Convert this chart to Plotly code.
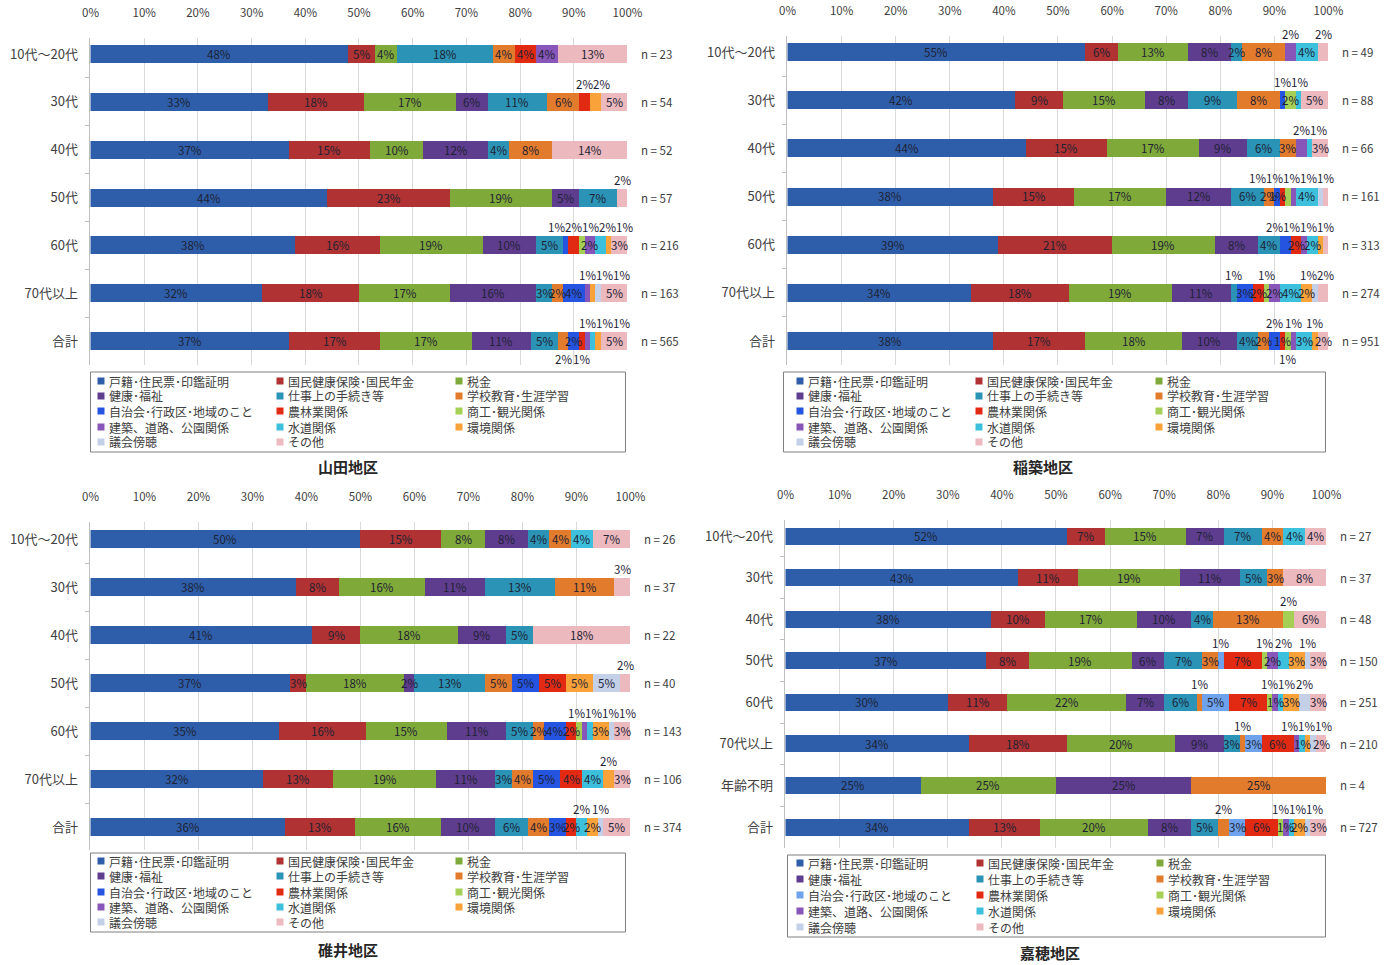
import plotly.graph_objects as go

W, H = 1393, 965
FONT = "Noto Sans CJK JP"

CATS = ["戸籍･住民票･印鑑証明", "国民健康保険･国民年金", "税金", "健康･福祉",
        "仕事上の手続き等", "学校教育･生涯学習", "自治会･行政区･地域のこと", "農林業関係",
        "商工･観光関係", "建築、道路、公園関係", "水道関係", "環境関係", "議会傍聴", "その他"]

AGES = ["10代～20代", "30代", "40代", "50代", "60代", "70代以上", "合計"]
AGES_KAHO = ["10代～20代", "30代", "40代", "50代", "60代", "70代以上", "年齢不明", "合計"]

# ---- data (percent), one list per category, rows in AGES order ----
YAMADA = {
    "戸籍･住民票･印鑑証明": [48, 33, 37, 44, 38, 32, 37],
    "国民健康保険･国民年金": [5, 18, 15, 23, 16, 18, 17],
    "税金": [4, 17, 10, 19, 19, 17, 17],
    "健康･福祉": [0, 6, 12, 5, 10, 16, 11],
    "仕事上の手続き等": [18, 11, 4, 7, 5, 3, 5],
    "学校教育･生涯学習": [4, 6, 8, 0, 0, 2, 2],
    "自治会･行政区･地域のこと": [0, 0, 0, 0, 1, 4, 2],
    "農林業関係": [4, 2, 0, 0, 2, 0, 1],
    "商工･観光関係": [0, 0, 0, 0, 1, 0, 0],
    "建築、道路、公園関係": [4, 0, 0, 0, 2, 1, 1],
    "水道関係": [0, 0, 0, 0, 2, 0, 1],
    "環境関係": [0, 2, 0, 0, 1, 1, 1],
    "議会傍聴": [0, 0, 0, 0, 0, 1, 0],
    "その他": [13, 5, 14, 2, 3, 5, 5],
}
N_YAMADA = [23, 54, 52, 57, 216, 163, 565]

INATSUKI = {
    "戸籍･住民票･印鑑証明": [55, 42, 44, 38, 39, 34, 38],
    "国民健康保険･国民年金": [6, 9, 15, 15, 21, 18, 17],
    "税金": [13, 15, 17, 17, 19, 19, 18],
    "健康･福祉": [8, 8, 9, 12, 8, 11, 10],
    "仕事上の手続き等": [2, 9, 6, 6, 4, 1, 4],
    "学校教育･生涯学習": [8, 8, 3, 2, 0, 0, 2],
    "自治会･行政区･地域のこと": [0, 1, 0, 1, 2, 3, 2],
    "農林業関係": [0, 0, 0, 1, 2, 2, 1],
    "商工･観光関係": [0, 2, 0, 1, 0, 1, 1],
    "建築、道路、公園関係": [2, 0, 2, 1, 1, 2, 1],
    "水道関係": [4, 1, 1, 4, 2, 4, 3],
    "環境関係": [0, 0, 0, 0, 1, 2, 1],
    "議会傍聴": [0, 0, 0, 1, 0, 1, 0],
    "その他": [2, 5, 3, 1, 1, 2, 2],
}
N_INATSUKI = [49, 88, 66, 161, 313, 274, 951]

USUI = {
    "戸籍･住民票･印鑑証明": [50, 38, 41, 37, 35, 32, 36],
    "国民健康保険･国民年金": [15, 8, 9, 3, 16, 13, 13],
    "税金": [8, 16, 18, 18, 15, 19, 16],
    "健康･福祉": [8, 11, 9, 2, 11, 11, 10],
    "仕事上の手続き等": [4, 13, 5, 13, 5, 3, 6],
    "学校教育･生涯学習": [4, 11, 0, 5, 2, 4, 4],
    "自治会･行政区･地域のこと": [0, 0, 0, 5, 4, 5, 3],
    "農林業関係": [0, 0, 0, 5, 2, 4, 2],
    "商工･観光関係": [0, 0, 0, 0, 1, 0, 0],
    "建築、道路、公園関係": [0, 0, 0, 0, 1, 0, 0],
    "水道関係": [4, 0, 0, 0, 1, 4, 2],
    "環境関係": [0, 0, 0, 5, 3, 2, 2],
    "議会傍聴": [0, 0, 0, 5, 1, 0, 1],
    "その他": [7, 3, 18, 2, 3, 3, 5],
}
N_USUI = [26, 37, 22, 40, 143, 106, 374]

KAHO = {
    "戸籍･住民票･印鑑証明": [52, 43, 38, 37, 30, 34, 25, 34],
    "国民健康保険･国民年金": [7, 11, 10, 8, 11, 18, 0, 13],
    "税金": [15, 19, 17, 19, 22, 20, 25, 20],
    "健康･福祉": [7, 11, 10, 6, 7, 9, 25, 8],
    "仕事上の手続き等": [7, 5, 4, 7, 6, 3, 0, 5],
    "学校教育･生涯学習": [4, 3, 13, 3, 1, 1, 25, 2],
    "自治会･行政区･地域のこと": [0, 0, 0, 1, 5, 3, 0, 3],
    "農林業関係": [0, 0, 0, 7, 7, 6, 0, 6],
    "商工･観光関係": [0, 0, 2, 1, 1, 0, 0, 1],
    "建築、道路、公園関係": [0, 0, 0, 2, 1, 1, 0, 1],
    "水道関係": [4, 0, 0, 2, 1, 1, 0, 1],
    "環境関係": [0, 0, 0, 3, 3, 1, 0, 2],
    "議会傍聴": [0, 0, 0, 1, 2, 1, 0, 1],
    "その他": [4, 8, 6, 3, 3, 2, 0, 3],
}
N_KAHO = [27, 37, 48, 150, 251, 210, 4, 727]

# ---- styles ----
COLORS = ["#2E5EAA", "#B03232", "#7FAA3A", "#5F3D8E", "#2B93B5", "#E27B2C", "#2554E0",
          "#E22A12", "#A6D055", "#8756B8", "#3CC0DC", "#F9A23A", "#C3D0E8", "#EBB9BE"]
KAHO_COLORS = list(COLORS)
KAHO_COLORS[6] = "#6EA2EC"

# label placement overrides (default: value>=3 inside, else above)
POS_YAMADA = {("60代", "建築、道路、公園関係"): "in", ("70代以上", "学校教育･生涯学習"): "in",
              ("合計", "自治会･行政区･地域のこと"): "in", ("合計", "学校教育･生涯学習"): "below",
              ("合計", "農林業関係"): "below"}
POS_INATSUKI = {("10代～20代", "仕事上の手続き等"): "in", ("30代", "商工･観光関係"): "in",
                ("50代", "学校教育･生涯学習"): "in", ("50代", "自治会･行政区･地域のこと"): "in",
                ("60代", "農林業関係"): "in", ("60代", "水道関係"): "in",
                ("70代以上", "農林業関係"): "in", ("70代以上", "建築、道路、公園関係"): "in",
                ("70代以上", "環境関係"): "in", ("合計", "学校教育･生涯学習"): "in",
                ("合計", "農林業関係"): "in", ("合計", "その他"): "in",
                ("合計", "商工･観光関係"): "below"}
POS_USUI = {("50代", "健康･福祉"): "in", ("60代", "学校教育･生涯学習"): "in",
            ("60代", "農林業関係"): "in", ("合計", "農林業関係"): "in",
            ("合計", "環境関係"): "in", ("30代", "その他"): "above"}
POS_KAHO = {("50代", "建築、道路、公園関係"): "in", ("60代", "建築、道路、公園関係"): "in",
            ("70代以上", "水道関係"): "in", ("70代以上", "その他"): "in",
            ("合計", "建築、道路、公園関係"): "in", ("合計", "環境関係"): "in"}

# pixel geometry of each panel (reference picture pixels)
PANELS = [
    dict(title="山田地区", data=YAMADA, rows=AGES, n=N_YAMADA, pos=POS_YAMADA, colors=COLORS,
         x0=90, x1=627, top=38, bottom=365, first=54, last=341, barpx=18,
         legend=(90, 372, 625, 452), lcols=(97, 276, 455), lrows=(381, 396, 411, 427, 442),
         tpos=(348, 466)),
    dict(title="稲築地区", data=INATSUKI, rows=AGES, n=N_INATSUKI, pos=POS_INATSUKI, colors=COLORS,
         x0=787, x1=1328, top=36, bottom=365, first=52, last=341, barpx=18,
         legend=(783, 372, 1325, 452), lcols=(796, 975, 1155), lrows=(381, 396, 411, 427, 442),
         tpos=(1043, 466)),
    dict(title="碓井地区", data=USUI, rows=AGES, n=N_USUI, pos=POS_USUI, colors=COLORS,
         x0=90, x1=630, top=522, bottom=850, first=539, last=827, barpx=18,
         legend=(90, 853, 625, 932), lcols=(97, 276, 455), lrows=(861, 876, 892, 907, 922),
         tpos=(348, 949)),
    dict(title="嘉穂地区", data=KAHO, rows=AGES_KAHO, n=N_KAHO, pos=POS_KAHO, colors=KAHO_COLORS,
         x0=785, x1=1326, top=520, bottom=848, first=536, last=827, barpx=17,
         legend=(787, 855, 1325, 937), lcols=(796, 976, 1156), lrows=(863, 879, 895, 911, 927),
         tpos=(1050, 952)),
]

LABEL_COLOR = "#1E2233"
TEXT_COLOR = "#404040"
VAL_SIZE = 11.5

# horizontal calibration of the rendered page (observed offset / scale)
OX, SX = 7.5, 0.9835


def px_x(x):
    return (x - OX) / (SX * W)


def px_y(y):
    return 1 - y / H


def spread(items, gap, hi):
    items = sorted(items, key=lambda t: t[0])
    xs = [t[0] for t in items]
    for i in range(1, len(xs)):
        xs[i] = max(xs[i], xs[i - 1] + gap)
    if xs and xs[-1] > hi:
        xs[-1] = hi
        for i in range(len(xs) - 2, -1, -1):
            xs[i] = min(xs[i], xs[i + 1] - gap)
    return [(xs[i], items[i][1]) for i in range(len(items))]


fig = go.Figure()
annotations = []
shapes = []
layout_axes = {}

for k, p in enumerate(PANELS, start=1):
    xa = "x" if k == 1 else f"x{k}"
    ya = "y" if k == 1 else f"y{k}"
    rows = p["rows"]
    nrows = len(rows)
    spacing = (p["last"] - p["first"]) / (nrows - 1)
    r_top = -(p["first"] - p["top"]) / spacing
    r_bot = (nrows - 1) + (p["bottom"] - p["last"]) / spacing
    bw = p["barpx"] / spacing

    for ci, cat in enumerate(CATS):
        fig.add_trace(go.Bar(
            y=rows, x=p["data"][cat], orientation="h", width=bw,
            marker=dict(color=p["colors"][ci], line=dict(width=0)),
            name=cat, showlegend=False, xaxis=xa, yaxis=ya,
            hovertemplate="%{y} " + cat + ": %{x}%<extra></extra>",
        ))

    # value labels
    gap = 17 / (p["x1"] - p["x0"]) * 100
    for ri, row in enumerate(rows):
        cum = 0
        above, below = [], []
        for cat in CATS:
            v = p["data"][cat][ri]
            if v <= 0:
                continue
            center = cum + v / 2
            cum += v
            mode = p["pos"].get((row, cat), "in" if v >= 3 else "above")
            if mode == "in":
                annotations.append(dict(x=center, y=row, xref=xa, yref=ya, text=f"{v}%",
                                        showarrow=False, font=dict(size=VAL_SIZE, color=LABEL_COLOR)))
            elif mode == "above":
                above.append((center, f"{v}%"))
            else:
                below.append((center, f"{v}%"))
        for group, shift in ((above, 18), (below, -18)):
            for x, t in spread(group, gap, 99.5):
                annotations.append(dict(x=x, y=row, xref=xa, yref=ya, text=t, yshift=shift,
                                        showarrow=False, font=dict(size=VAL_SIZE, color=LABEL_COLOR)))
        annotations.append(dict(x=1.022, y=row, xref=f"{xa} domain", yref=ya, text=f"n = {p['n'][ri]}",
                                xanchor="left", showarrow=False, font=dict(size=11.5, color=TEXT_COLOR)))

    layout_axes[("xaxis" if k == 1 else f"xaxis{k}")] = dict(
        domain=[px_x(p["x0"]), px_x(p["x1"])], anchor=ya, side="top", range=[0, 100],
        tickvals=list(range(0, 101, 10)), ticktext=[f"{v}%" for v in range(0, 101, 10)],
        showgrid=True, gridcolor="#D9D9D9", gridwidth=1, zeroline=False, showline=False,
        ticks="", ticklabelstandoff=18, tickfont=dict(size=11.5, color=TEXT_COLOR), fixedrange=True,
    )
    layout_axes[("yaxis" if k == 1 else f"yaxis{k}")] = dict(
        domain=[px_y(p["bottom"]), px_y(p["top"])], anchor=xa, type="category",
        categoryorder="array", categoryarray=rows, range=[r_bot, r_top],
        showline=True, linecolor="#BFBFBF", linewidth=1, ticks="outside", tickson="boundaries",
        ticklen=4, tickcolor="#BFBFBF", showgrid=False, zeroline=False,
        tickfont=dict(size=13, color=TEXT_COLOR), fixedrange=True, ticklabelstandoff=9,
    )

    # custom legend box
    lx0, ly0, lx1, ly1 = p["legend"]
    shapes.append(dict(type="rect", xref="paper", yref="paper", x0=px_x(lx0), x1=px_x(lx1),
                       y0=px_y(ly1), y1=px_y(ly0), line=dict(color="#7F7F7F", width=1),
                       fillcolor="rgba(0,0,0,0)"))
    for ci, cat in enumerate(CATS):
        col = ci % 3
        r = ci // 3
        cx = p["lcols"][col]
        cy = p["lrows"][r]
        shapes.append(dict(type="rect", xref="paper", yref="paper", x0=px_x(cx), x1=px_x(cx + 7),
                           y0=px_y(cy + 3.5), y1=px_y(cy - 3.5), line=dict(width=0),
                           fillcolor=p["colors"][ci]))
        annotations.append(dict(x=px_x(cx + 10), y=px_y(cy), xref="paper", yref="paper", text=cat,
                                xanchor="left", yanchor="middle", showarrow=False,
                                font=dict(size=12, color=TEXT_COLOR)))
    tx, ty = p["tpos"]
    annotations.append(dict(x=px_x(tx), y=px_y(ty), xref="paper", yref="paper",
                            xanchor="center", yanchor="middle",
                            text=f"<b>{p['title']}</b>", showarrow=False,
                            font=dict(size=15, color="#262626")))

fig.update_layout(
    width=W, height=H, autosize=False, margin=dict(l=0, r=0, t=0, b=0),
    barmode="stack", plot_bgcolor="white", paper_bgcolor="white",
    font=dict(family=FONT, color=TEXT_COLOR),
    annotations=annotations, shapes=shapes, showlegend=False,
    **layout_axes,
)

POST = """
(function(){
  var de = document.documentElement, b = document.body;
  de.style.margin='0'; b.style.margin='0';
})();
"""

fig.write_html("out.html", config={"responsive": False, "displayModeBar": False}, post_script=POST)
